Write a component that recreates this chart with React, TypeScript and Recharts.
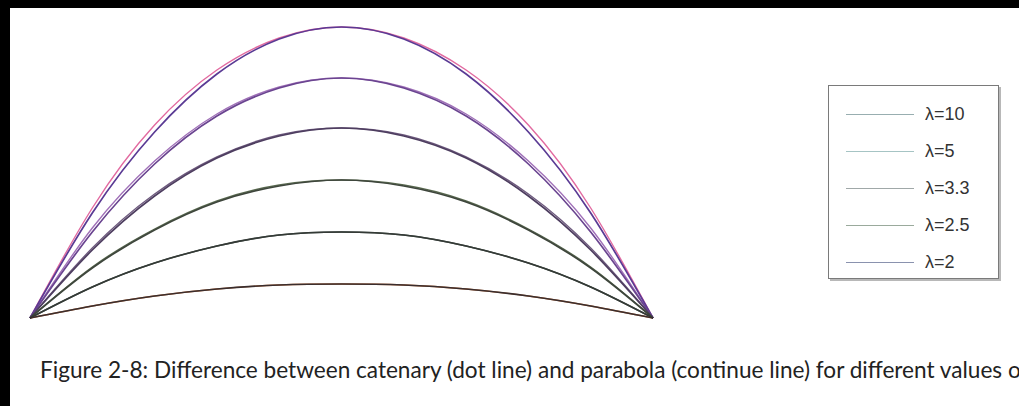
import React from 'react';
import { LineChart, Line, XAxis, YAxis } from 'recharts';

// horizontal position along the span (-1 = left support, 1 = right support)
const xPos = [-1, -0.8, -0.6, -0.4, -0.2, 0, 0.2, 0.4, 0.6, 0.8, 1];

// parabola (continue line), heights, top curve first
const parabola1 = [0, 105, 186, 244, 279, 291, 279, 244, 186, 105, 0];
const parabola2 = [0, 86, 154, 202, 230, 240, 230, 202, 154, 86, 0];
const parabola3 = [0, 68, 122, 160, 182, 190, 182, 160, 122, 68, 0];
const parabola4 = [0, 50, 88, 116, 132, 138, 132, 116, 88, 50, 0];
const parabola5 = [0, 31, 55, 72, 83, 86, 83, 72, 55, 31, 0];
const parabola6 = [0, 12, 22, 29, 33, 34, 33, 29, 22, 12, 0];

// catenary (dot line)
const catenary1 = [0, 110, 193, 248, 280, 291, 280, 248, 193, 110, 0];
const catenary2 = [0, 90, 157, 204, 231, 240, 231, 204, 157, 90, 0];
const catenary3 = [0, 70, 124, 161, 183, 190, 183, 161, 124, 70, 0];
const catenary4 = [0, 51, 89, 117, 133, 138, 133, 117, 89, 51, 0];
const catenary5 = [0, 31, 55, 72, 83, 86, 83, 72, 55, 31, 0];
const catenary6 = [0, 12, 22, 29, 33, 34, 33, 29, 22, 12, 0];

const legendLabels = ['λ=10', 'λ=5', 'λ=3.3', 'λ=2.5', 'λ=2'];
const legendColors = ['#98aeb0', '#a6c4c4', '#a0a8a8', '#9aaa9c', '#8a92ae'];

const parabolas = [parabola1, parabola2, parabola3, parabola4, parabola5, parabola6];
const catenaries = [catenary1, catenary2, catenary3, catenary4, catenary5, catenary6];
const parabolaColors = ['#5a3a94', '#6a4490', '#4e3e60', '#3e463c', '#343a36', '#3a2e2e'];
const catenaryColors = ['#e26aa0', '#a070b8', '#6e5a7e', '#5a6a50', '#44504a', '#c8703a'];

const data = xPos.map((x, i) => {
  const row: Record<string, number> = { x };
  parabolas.forEach((p, k) => { row[`p${k}`] = p[i]; });
  catenaries.forEach((c, k) => { row[`c${k}`] = c[i]; });
  return row;
});

export default function App() {
  return (
    <div style={{ position: 'relative', width: 1019, height: 406, background: '#fff', overflow: 'hidden' }}>
      <style>{`body{margin:0}`}</style>
      <div style={{ position: 'absolute', left: 0, top: 0, width: 1019, height: 8, background: '#000' }} />
      <div style={{ position: 'absolute', left: 0, top: 0, width: 10, height: 406, background: '#000' }} />

      <div style={{ position: 'absolute', left: 0, top: 0 }}>
        <LineChart width={1019} height={360} data={data}
          margin={{ top: 27, left: 30, right: 366, bottom: 42 }}>
          <XAxis dataKey="x" type="number" domain={[-1, 1]} hide />
          <YAxis type="number" domain={[0, 291]} hide />
          {catenaries.map((_, k) => (
            <Line key={`c${k}`} dataKey={`c${k}`} type="natural" dot={false}
              stroke={catenaryColors[k]} strokeWidth={1.4} isAnimationActive={false} />
          ))}
          {parabolas.map((_, k) => (
            <Line key={`p${k}`} dataKey={`p${k}`} type="natural" dot={false}
              stroke={parabolaColors[k]} strokeWidth={1.7} isAnimationActive={false} />
          ))}
        </LineChart>
      </div>

      <div style={{
        position: 'absolute', left: 828, top: 85, width: 169, height: 192,
        border: '1.5px solid #7a7a7a', boxShadow: '2px 2px 0 #b8b8b8', background: '#fff',
      }}>
        {legendLabels.map((label, i) => (
          <div key={label} style={{ position: 'absolute', left: 0, top: 28 + i * 37 - 10, height: 20, display: 'flex', alignItems: 'center' }}>
            <div style={{ marginLeft: 17, width: 68, height: 0, borderTop: `1.5px solid ${legendColors[i]}` }} />
            <span style={{ marginLeft: 11, fontFamily: '"Liberation Sans", Arial, sans-serif', fontSize: 18, color: '#333' }}>{label}</span>
          </div>
        ))}
      </div>

      <div style={{
        position: 'absolute', left: 40, top: 356, whiteSpace: 'nowrap',
        fontFamily: 'Lato, "Open Sans", sans-serif', fontSize: 22.6, color: '#222',
      }}>
        Figure 2-8: Difference between catenary (dot line) and parabola (continue line) for different values of λ
      </div>
    </div>
  );
}
